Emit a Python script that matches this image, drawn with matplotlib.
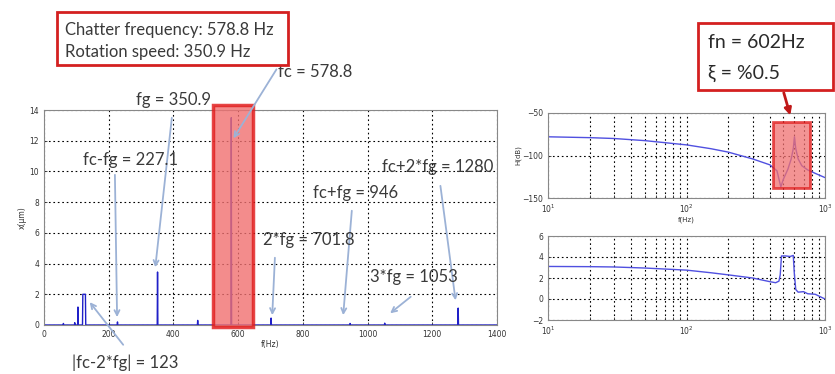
import matplotlib
matplotlib.use("Agg")
import matplotlib.pyplot as plt
from matplotlib.patches import Rectangle
import numpy as np

# spectrum peaks (Hz, amplitude um, half width Hz)
peak_f = [60, 95, 105, 124, 227.1, 350.9, 475, 578.8, 701.8, 946, 1053, 1280]
peak_a = [0.1, 0.15, 1.17, 2.0, 0.2, 3.45, 0.3, 13.5, 0.45, 0.1, 0.12, 1.1]
peak_w = [1, 1, 1, 4, 1, 1, 1, 1, 1, 1, 1, 1]

# labels on the spectrum: text, text pos, arrow start, arrow end (data units)
labels = ["fg = 350.9", "fc = 578.8", "fc-fg = 227.1", "fc+fg = 946",
          "2*fg = 701.8", "3*fg = 1053", "fc+2*fg = 1280", "|fc-2*fg| = 123"]
label_xy = [(399, 14.65), (837, 16.45), (266, 10.74), (964, 8.59),
            (819, 5.53), (1143, 3.13), (1045, 10.29), (250, -2.47)]
label_ha = ["center", "center", "center", "center", "center", "center", "left", "center"]
arrow_from = [(396, 13.67), (723, 16.8), (219, 9.96), (952, 7.62),
              (714, 4.56), (1140, 1.95), (1224, 9.24), (250, -1.43)]
arrow_to = [(343, 3.58), (581, 12.0), (226, 0.33), (924, 0.46),
            (705, 0.46), (1063, 0.65), (1273, 1.43), (136, 1.63)]

# FRF magnitude (dB) and second plot
mag_f = [10, 20, 30, 50, 100, 150, 200, 300, 400, 450, 480, 500, 540, 570, 590, 602, 615, 640, 680, 750, 850, 1000]
mag_db = [-78, -79, -80, -82.5, -87.5, -92, -96, -104, -111, -118, -137, -128, -116, -104, -92, -78,
          -92, -104, -112, -117, -121, -126]
ph_f = [10, 20, 30, 50, 100, 150, 200, 300, 400, 440, 465, 475, 485, 520, 560, 590, 600, 615, 640, 700, 750, 850, 1000]
ph_v = [3.1, 3.08, 3.05, 2.95, 2.75, 2.5, 2.3, 2.0, 1.65, 1.55, 1.7, 2.3, 4.1, 4.1, 4.05, 4.15, 2.5, 0.9,
        0.65, 0.7, 0.5, 0.45, 0.0]

W, H = 835, 374
fig = plt.figure(figsize=(W/100, H/100), dpi=100)

def fbox(x0, y0, x1, y1):
    # pixel box (top-left origin) -> figure fraction rect
    return [x0/W, 1 - y1/H, (x1-x0)/W, (y1-y0)/H]

tick_kw = dict(labelsize=5.5, colors='#333333', direction='in', length=2, width=0.6)
grid_kw = dict(color='black', linestyle=(0, (1.5, 2.5)), linewidth=0.8)
ann_font = 'Lato'

# ---- left: spectrum
ax = fig.add_axes(fbox(44, 110, 497, 325))
sx, sy = [0], [0]
for f, a, w in zip(peak_f, peak_a, peak_w):
    if w > 1:
        sx += [f - w - 1, f - w, f + w, f + w + 1]
        sy += [0, a, a, 0]
    else:
        sx += [f - 1, f, f + 1]
        sy += [0, a, 0]
sx.append(1400); sy.append(0)
ax.plot(sx, sy, color='#2020c8', lw=1.0)
ax.set_xlim(0, 1400)
ax.set_ylim(0, 14)
ax.set_xticks(range(0, 1401, 200))
ax.set_yticks(range(0, 15, 2))
ax.grid(True, **grid_kw)
ax.tick_params(**tick_kw)
for s in ax.spines.values():
    s.set_color('#888888')
ax.set_xlabel('f(Hz)', fontsize=5.5, color='#333333', labelpad=1)
ax.set_ylabel('x(μm)', fontsize=5.5, color='#333333', labelpad=2)

ax.add_patch(Rectangle((522, -0.13), 124, 14.46, facecolor='#f07070', alpha=0.8,
                       edgecolor='#e01818', lw=2.5, clip_on=False, zorder=3))

for t, xy, ha, a0, a1 in zip(labels, label_xy, label_ha, arrow_from, arrow_to):
    ax.text(xy[0], xy[1], t, ha=ha, va='center', fontsize=12, color='#3a3a3a',
            family=ann_font, clip_on=False, zorder=5)
    ax.annotate('', xy=a1, xytext=a0, annotation_clip=False, zorder=4,
                arrowprops=dict(arrowstyle='->', color='#9cb2d6', lw=1.3, mutation_scale=9))

# info box top-left
fig.patches.append(Rectangle((57/W, 1-65/H), 231/W, 53/H, transform=fig.transFigure,
                             facecolor='white', edgecolor='#d42020', lw=2))
fig.text(65/W, 1-30/H, 'Chatter frequency: 578.8 Hz', fontsize=12, family=ann_font,
         color='#3a3a3a', va='center')
fig.text(65/W, 1-52/H, 'Rotation speed: 350.9 Hz', fontsize=12, family=ann_font,
         color='#3a3a3a', va='center')

# ---- right top: magnitude
ax1 = fig.add_axes(fbox(548, 113, 825, 198))
ax1.semilogx(mag_f, mag_db, color='#5050e0', lw=1.0)
ax1.set_xlim(10, 1000)
ax1.set_ylim(-150, -50)
ax1.set_yticks([-150, -100, -50])
ax1.add_patch(Rectangle((422, -138), 358, 77.4, facecolor='#f07070', alpha=0.75,
                        edgecolor='#e01818', lw=2, zorder=3))
ax1.set_xlabel('f(Hz)', fontsize=5, color='#333333', labelpad=1)
ax1.set_ylabel('H(dB)', fontsize=5, color='#333333', labelpad=1)

# ---- right bottom
ax2 = fig.add_axes(fbox(548, 236, 825, 320))
ax2.semilogx(ph_f, ph_v, color='#5050e0', lw=1.0)
ax2.set_xlim(10, 1000)
ax2.set_ylim(-2, 6)
ax2.set_yticks([-2, 0, 2, 4, 6])

for a in (ax1, ax2):
    a.grid(True, which='both', axis='x', **grid_kw)
    a.grid(True, which='major', axis='y', **grid_kw)
    a.tick_params(which='both', **tick_kw)
    a.tick_params(which='minor', labelbottom=False)
    for s in a.spines.values():
        s.set_color('#888888')

# fn box + red arrow
fig.patches.append(Rectangle((698/W, 1-90/H), 135/W, 67/H, transform=fig.transFigure,
                             facecolor='white', edgecolor='#d42020', lw=2))
fig.text(708/W, 1-43/H, 'fn = 602Hz', fontsize=14, family=ann_font, color='#2a2a2a', va='center')
fig.text(708/W, 1-73/H, 'ξ = %0.5', fontsize=14, family=ann_font, color='#2a2a2a', va='center')
fig.add_artist(matplotlib.patches.FancyArrowPatch((783/W, 1-90/H), (791/W, 1-118/H),
               transform=fig.transFigure, arrowstyle='-|>', mutation_scale=10,
               color='#c01818', lw=2))

fig.savefig('out.png', dpi=100)
